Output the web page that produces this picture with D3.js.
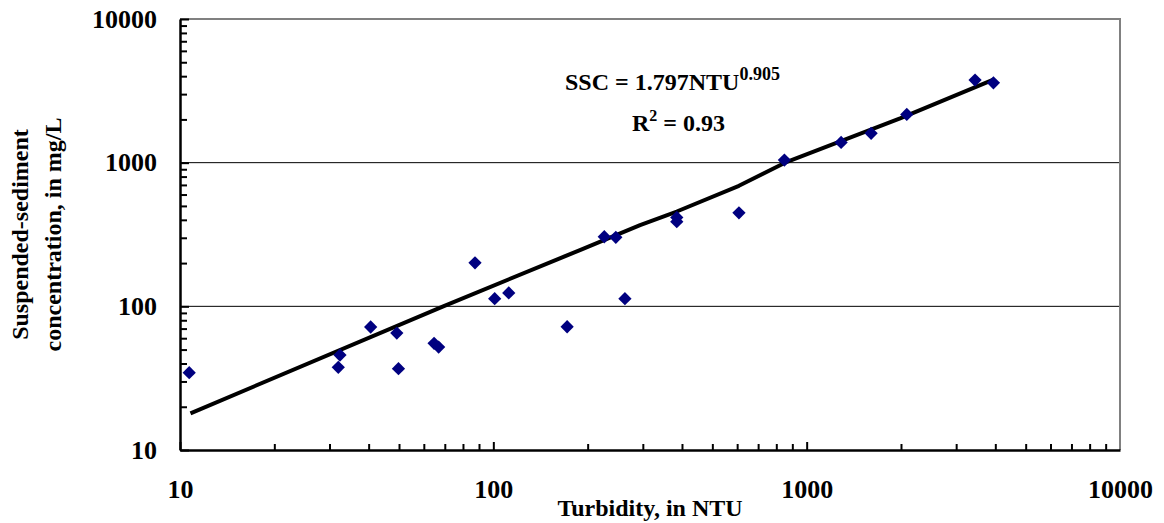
<!DOCTYPE html>
<html>
<head>
<meta charset="utf-8">
<script src="https://cdn.jsdelivr.net/npm/d3@7"></script>
<style>
  body { margin: 0; background: #fff; }
  text { font-family: "Liberation Serif", "Times New Roman", serif; font-weight: bold; fill: #000; }
</style>
</head>
<body>
<script>
// measured samples: turbidity (NTU) vs suspended-sediment concentration (mg/L)
const turbidity = [10.7, 32.4, 32.0, 40.6, 49.2, 49.8, 64.7, 66.9, 87.4, 101, 112, 172, 263,
  226, 246, 385, 385, 608, 849, 1288, 1606, 2087, 3447, 3945];
const ssc = [34.5, 45.8, 37.6, 71.8, 65.2, 36.8, 55.3, 52.1, 201, 113, 124, 72.1, 113,
  305, 302, 416, 388, 448, 1042, 1384, 1600, 2168, 3756, 3597];

// regression curve
const fitNTU = [10.8, 69.2, 163, 189, 294, 385, 608, 853, 1987, 3945];
const fitSSC = [18.0, 100, 216, 246, 368, 457, 690, 1000, 2032, 3780];

// ticks
const majorTicks = [10, 100, 1000, 10000];
const gridValues = [100, 1000];

const w = 1164;
const h = 523;
const padLeft = 180, padRight = 1120, padTop = 19, padBottom = 450;

const xScale = d3.scaleLog().domain([10, 10000]).range([padLeft, padRight]);
const yScale = d3.scaleLog().domain([10, 10000]).range([padBottom, padTop]);

const minorTicks = [];
[10, 100, 1000].forEach(b => { for (let k = 2; k <= 9; k++) minorTicks.push(b * k); });

const svg = d3.select("body")
  .append("svg")
  .attr("width", w)
  .attr("height", h);

// gridlines
svg.selectAll(".grid")
  .data(gridValues)
  .enter()
  .append("line")
  .attr("x1", padLeft)
  .attr("x2", padRight)
  .attr("y1", d => yScale(d))
  .attr("y2", d => yScale(d))
  .attr("stroke", "#000")
  .attr("stroke-width", 1);

// grey frame on top and right
svg.append("path")
  .attr("d", `M${padLeft},${padTop}H${padRight}V${padBottom}`)
  .attr("fill", "none")
  .attr("stroke", "#808080")
  .attr("stroke-width", 2);

// minor ticks
svg.append("g")
  .attr("transform", "translate(0," + padBottom + ")")
  .call(d3.axisBottom(xScale).tickValues(minorTicks).tickSize(-6).tickSizeOuter(0).tickFormat(""))
  .call(g => g.select(".domain").remove())
  .selectAll("line").attr("stroke-width", 2);
svg.append("g")
  .attr("transform", "translate(" + padLeft + ",0)")
  .call(d3.axisLeft(yScale).tickValues(minorTicks).tickSize(-7).tickSizeOuter(0).tickFormat(""))
  .call(g => g.select(".domain").remove())
  .selectAll("line").attr("stroke-width", 2);

// major ticks + labels
const xAxis = d3.axisBottom(xScale).tickValues(majorTicks).tickSize(-8).tickSizeOuter(0)
  .tickPadding(30).tickFormat(d3.format("d"));
const yAxis = d3.axisLeft(yScale).tickValues(majorTicks).tickSize(-9).tickSizeOuter(0)
  .tickPadding(23).tickFormat(d3.format("d"));

const gx = svg.append("g")
  .attr("transform", "translate(0," + padBottom + ")")
  .call(xAxis);
const gy = svg.append("g")
  .attr("transform", "translate(" + padLeft + ",0)")
  .call(yAxis);

[gx, gy].forEach(g => {
  g.select(".domain").attr("stroke-width", 2.5);
  g.selectAll("line").attr("stroke-width", 2);
  g.selectAll("text")
    .style("font-family", "'Liberation Serif', 'Times New Roman', serif")
    .style("font-weight", "bold")
    .style("font-size", "26px")
    .attr("fill", "#000");
});
gx.selectAll(".tick").filter(d => d === 10000).select("line").remove();

// fitted line
const line = d3.line()
  .x(d => xScale(d[0]))
  .y(d => yScale(d[1]));

svg.append("path")
  .datum(fitNTU.map((d, i) => [d, fitSSC[i]]))
  .attr("d", line)
  .attr("fill", "none")
  .attr("stroke", "#000")
  .attr("stroke-width", 4)
  .attr("stroke-linejoin", "round");

// data points
svg.selectAll(".pt")
  .data(turbidity.map((d, i) => [d, ssc[i]]))
  .enter()
  .append("path")
  .attr("class", "pt")
  .attr("d", d3.symbol(d3.symbolSquare, 88))
  .attr("transform", d => "translate(" + xScale(d[0]) + "," + yScale(d[1]) + ") rotate(45)")
  .attr("fill", "#000080");

// equation
const eq = svg.append("text")
  .attr("x", 565)
  .attr("y", 90)
  .style("font-size", "24px");
eq.append("tspan").text("SSC = 1.797NTU");
eq.append("tspan").attr("dy", -10).style("font-size", "18px").text("0.905");

const r2 = svg.append("text")
  .attr("x", 632)
  .attr("y", 131)
  .style("font-size", "24px");
r2.append("tspan").text("R");
r2.append("tspan").attr("dy", -10).style("font-size", "16px").text("2");
r2.append("tspan").attr("dy", 10).text(" = 0.93");

// axis titles
svg.append("text")
  .attr("x", (padLeft + padRight) / 2)
  .attr("y", 516)
  .attr("text-anchor", "middle")
  .style("font-size", "24px")
  .text("Turbidity, in NTU");

svg.append("text")
  .attr("transform", "translate(28," + (padTop + padBottom) / 2 + ") rotate(-90)")
  .attr("text-anchor", "middle")
  .style("font-size", "24px")
  .text("Suspended-sediment");

svg.append("text")
  .attr("transform", "translate(61," + (padTop + padBottom) / 2 + ") rotate(-90)")
  .attr("text-anchor", "middle")
  .style("font-size", "24px")
  .text("concentration, in mg/L");
</script>
</body>
</html>
